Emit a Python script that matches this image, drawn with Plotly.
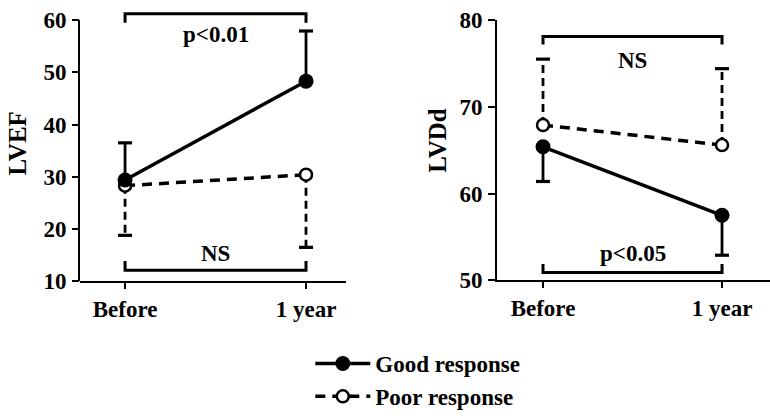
import plotly.graph_objects as go

# ---------------- data ----------------
categories = ['Before', '1 year']

lvef_good = [29.4, 48.3]
lvef_good_sd = [7.1, 9.6]      # drawn upward
lvef_poor = [28.3, 30.4]
lvef_poor_sd = [9.5, 13.9]     # drawn downward

lvdd_good = [65.4, 57.5]
lvdd_good_sd = [4.0, 4.6]      # drawn downward
lvdd_poor = [67.9, 65.6]
lvdd_poor_sd = [7.6, 8.8]      # drawn upward

lvef_ticks = [10, 20, 30, 40, 50, 60]
lvdd_ticks = [50, 60, 70, 80]

# significance brackets: [bar level, arm end level], label, label level
lvef_top_bracket = [61.2, 59.5]
lvef_top_label = 'p<0.01'
lvef_top_label_y = 57.2
lvef_bottom_bracket = [12.1, 13.9]
lvef_bottom_label = 'NS'
lvef_bottom_label_y = 15.3

lvdd_top_bracket = [78.1, 77.2]
lvdd_top_label = 'NS'
lvdd_top_label_y = 75.4
lvdd_bottom_bracket = [50.9, 51.9]
lvdd_bottom_label = 'p<0.05'
lvdd_bottom_label_y = 53.1

series_names = ['Good response', 'Poor response']

# ---------------- style ----------------
FONT = 'Liberation Serif, Times New Roman, serif'
BLACK = '#000000'
LW = 3.5
FS = 23

fig = go.Figure()


def add_errbars(xa, ya, means, sds, sign, dash):
    ends = []
    for c, m, s in zip(categories, means, sds):
        fig.add_trace(go.Scatter(
            x=[c, c], y=[m, m + sign * s], xaxis=xa, yaxis=ya,
            mode='lines', line=dict(color=BLACK, width=2.8, dash=dash),
            showlegend=False, hoverinfo='skip'))
        ends.append(m + sign * s)
    # caps
    fig.add_trace(go.Scatter(
        x=categories, y=ends, xaxis=xa, yaxis=ya, mode='markers',
        marker=dict(symbol='line-ew', size=10, color=BLACK,
                    line=dict(color=BLACK, width=3.2)),
        showlegend=False, hoverinfo='skip', cliponaxis=False))


def add_bracket(xa, ya, br):
    fig.add_trace(go.Scatter(
        x=[categories[0], categories[0], categories[1], categories[1]],
        y=[br[1], br[0], br[0], br[1]], xaxis=xa, yaxis=ya,
        mode='lines', line=dict(color=BLACK, width=3),
        showlegend=False, hoverinfo='skip'))


def add_panel(xa, ya, good, good_sd, good_sign, poor, poor_sd, poor_sign, legend):
    add_errbars(xa, ya, good, good_sd, good_sign, 'solid')
    add_errbars(xa, ya, poor, poor_sd, poor_sign, '8px,5px')
    fig.add_trace(go.Scatter(
        x=categories, y=poor, xaxis=xa, yaxis=ya, name=series_names[1],
        mode='lines+markers',
        line=dict(color=BLACK, width=LW, dash='10px,7px'),
        marker=dict(symbol='circle', size=12, color='white',
                    line=dict(color=BLACK, width=2.5)),
        showlegend=legend, legendrank=2, cliponaxis=False))
    fig.add_trace(go.Scatter(
        x=categories, y=good, xaxis=xa, yaxis=ya, name=series_names[0],
        mode='lines+markers',
        line=dict(color=BLACK, width=LW),
        marker=dict(symbol='circle', size=15, color=BLACK),
        showlegend=legend, legendrank=1, cliponaxis=False))


add_panel('x', 'y', lvef_good, lvef_good_sd, 1, lvef_poor, lvef_poor_sd, -1, True)
add_panel('x2', 'y2', lvdd_good, lvdd_good_sd, -1, lvdd_poor, lvdd_poor_sd, 1, False)

add_bracket('x', 'y', lvef_top_bracket)
add_bracket('x', 'y', lvef_bottom_bracket)
add_bracket('x2', 'y2', lvdd_top_bracket)
add_bracket('x2', 'y2', lvdd_bottom_bracket)

W, H = 770, 418
left_dom_x = [80 / W, 346 / W]
right_dom_x = [497 / W, 1.0]

tfont = dict(family=FONT, size=FS, color=BLACK, weight='bold')
axis_common = dict(showgrid=False, zeroline=False, linecolor=BLACK, linewidth=2,
                   ticks='outside', tickwidth=2, tickcolor=BLACK,
                   tickfont=tfont, automargin=False)

fig.update_layout(
    width=W, height=H,
    margin=dict(l=0, r=0, t=0, b=0),
    paper_bgcolor='white', plot_bgcolor='white',
    font=dict(family=FONT, color=BLACK, weight='bold'),
    xaxis=dict(domain=left_dom_x, range=[-0.249, 1.221], type='category',
               categoryorder='array', categoryarray=categories,
               showline=True, ticklen=6, anchor='y', **axis_common),
    yaxis=dict(domain=[1 - 294 / H, 1 - 10 / H], range=[10, 62],
               tickvals=lvef_ticks, showline=False, ticklen=7, anchor='x',
               ticklabelstandoff=1, **axis_common),
    xaxis2=dict(domain=right_dom_x, range=[-0.257, 1.268], type='category',
                categoryorder='array', categoryarray=categories,
                showline=True, ticklen=6, anchor='y2', **axis_common),
    yaxis2=dict(domain=[1 - 293 / H, 1 - 21 / H], range=[50, 80],
                tickvals=lvdd_ticks, showline=True, ticklen=7, anchor='x2',
                ticklabelstandoff=1, **axis_common),
    showlegend=True,
    legend=dict(x=0.403, y=0.145, xanchor='left', yanchor='top',
                font=tfont, itemwidth=55, bgcolor='rgba(0,0,0,0)',
                tracegroupgap=0),
)

# left y-axis line (stops at the top tick, bracket sits above it)
fig.add_shape(type='line', xref='paper', yref='y',
              x0=left_dom_x[0] - 1 / W, x1=left_dom_x[0] - 1 / W,
              y0=lvef_ticks[0], y1=lvef_ticks[-1],
              line=dict(color=BLACK, width=2))

for xa, ya, txt, yv in [
    ('x', 'y', lvef_top_label, lvef_top_label_y),
    ('x', 'y', lvef_bottom_label, lvef_bottom_label_y),
    ('x2', 'y2', lvdd_top_label, lvdd_top_label_y),
    ('x2', 'y2', lvdd_bottom_label, lvdd_bottom_label_y),
]:
    fig.add_annotation(x=0.5, y=yv, xref=xa, yref=ya, text=txt,
                       showarrow=False, font=tfont)

title_font = dict(family=FONT, size=25, color=BLACK, weight='bold')
fig.add_annotation(x=18 / W, y=1 - 150 / H, xref='paper', yref='paper', text='LVEF',
                   textangle=-90, showarrow=False, xanchor='center', yanchor='middle',
                   font=title_font)
fig.add_annotation(x=438 / W, y=1 - 147 / H, xref='paper', yref='paper', text='LVDd',
                   textangle=-90, showarrow=False, xanchor='center', yanchor='middle',
                   font=title_font)

fig.write_html('out.html', config={'displayModeBar': False},
               post_script="document.body.style.margin='0';document.body.style.overflow='hidden';")
